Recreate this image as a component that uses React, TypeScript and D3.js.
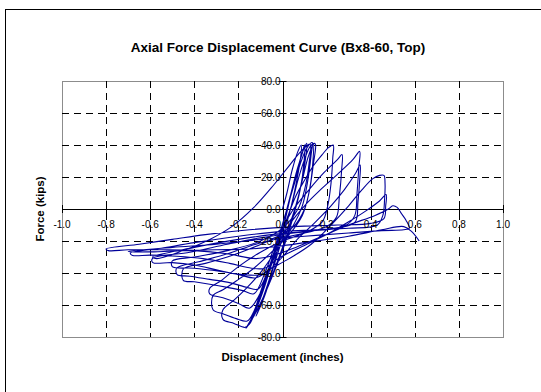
import React from "react";
import * as d3 from "d3";

// Axis tick values
const xTicks = [-1.0, -0.8, -0.6, -0.4, -0.2, 0.0, 0.2, 0.4, 0.6, 0.8, 1.0];
const yTicks = [-80, -60, -40, -20, 0, 20, 40, 60, 80];

// Recorded load history, one array per cycle: [displacement (in), force (kips)]
const cycle01: [number, number][] = [
  [0, 0], [0.02, 10], [0.045, 25], [0.07, 36], [0.085, 40], [0.082, 32], [0.065, 18], [0.04, 2],
  [0.0, -18], [-0.04, -36], [-0.08, -54], [-0.11, -64], [-0.12, -67], [-0.1, -60], [-0.06, -44],
  [-0.02, -24], [0.01, -8],
];
const cycle02: [number, number][] = [
  [0.04, 10], [0.07, 26], [0.095, 37], [0.11, 41], [0.105, 32], [0.085, 16], [0.055, -2], [0.01, -22],
  [-0.04, -40], [-0.09, -56], [-0.13, -67], [-0.165, -74.5], [-0.15, -71], [-0.12, -62], [-0.08, -46],
  [-0.04, -28], [0.0, -10],
];
const cycle03: [number, number][] = [
  [0.035, 8], [0.065, 24], [0.09, 35], [0.1, 40], [0.098, 30], [0.08, 12], [0.05, -4], [0.0, -24],
  [-0.06, -46], [-0.11, -62], [-0.15, -71], [-0.16, -73], [-0.13, -66], [-0.09, -50], [-0.05, -32],
  [-0.01, -14], [0.02, 0],
];
const cycle04: [number, number][] = [
  [0.05, 14], [0.08, 28], [0.11, 38], [0.135, 41.5], [0.13, 34], [0.115, 18], [0.09, 2],
  [0.05, -10], [-0.02, -24], [-0.09, -38], [-0.16, -49], [-0.22, -57], [-0.27, -63], [-0.27, -69],
  [-0.22, -71.5], [-0.17, -74], [-0.15, -72], [-0.12, -63], [-0.08, -48], [-0.04, -30], [0.0, -14],
  [0.04, 2],
];
const cycle05: [number, number][] = [
  [0.07, 18], [0.1, 31], [0.125, 39], [0.145, 41], [0.15, 40], [0.14, 28], [0.12, 10], [0.09, -4],
  [0.03, -16], [-0.05, -27], [-0.13, -37], [-0.21, -45], [-0.27, -50.5], [-0.315, -54], [-0.315, -63],
  [-0.27, -65.5], [-0.21, -68.5], [-0.16, -70], [-0.13, -64], [-0.1, -52], [-0.06, -36], [-0.02, -20],
  [0.02, -6], [0.06, 8],
];
const cycle06: [number, number][] = [
  [0.1, 18], [0.14, 27], [0.18, 34], [0.21, 38.5], [0.23, 40], [0.228, 32], [0.22, 16], [0.205, 2],
  [0.18, -8], [0.1, -15], [0.0, -20], [-0.1, -27], [-0.2, -36], [-0.28, -45], [-0.33, -49.5],
  [-0.33, -53], [-0.27, -55.5], [-0.2, -59], [-0.15, -62], [-0.11, -55], [-0.07, -42], [-0.03, -28],
  [0.02, -14], [0.06, 2], [0.09, 18],
];
const cycle07: [number, number][] = [
  [0.115, 32], [0.14, 40.5], [0.138, 30], [0.125, 14], [0.1, 0], [0.05, -11], [-0.05, -19],
  [-0.15, -25], [-0.25, -30], [-0.35, -34], [-0.45, -37.5], [-0.45, -44.6], [-0.4, -45.5],
  [-0.33, -47], [-0.25, -49], [-0.18, -51], [-0.13, -53], [-0.08, -40], [-0.04, -25], [0.0, -12],
  [0.05, 0], [0.12, 12], [0.19, 23], [0.25, 31],
];
const cycle08: [number, number][] = [
  [0.27, 34], [0.268, 24], [0.258, 8], [0.245, -5], [0.2, -11], [0.1, -15], [0.0, -18],
  [-0.12, -22], [-0.25, -28], [-0.38, -33], [-0.48, -37], [-0.478, -41], [-0.42, -42], [-0.33, -44],
  [-0.24, -46], [-0.16, -49], [-0.11, -50], [-0.06, -36], [-0.02, -22], [0.03, -10], [0.1, 2],
  [0.18, 13], [0.26, 23], [0.32, 31],
];
const cycle09: [number, number][] = [
  [0.35, 36], [0.346, 26], [0.338, 10], [0.328, -4], [0.29, -10], [0.18, -13],
  [0.05, -15], [-0.1, -18], [-0.25, -22], [-0.42, -27], [-0.59, -31], [-0.588, -33.5], [-0.5, -33.5],
  [-0.4, -35], [-0.3, -38], [-0.2, -41], [-0.12, -43], [-0.06, -38], [0.0, -30], [0.06, -20],
  [0.15, -8], [0.22, 2], [0.28, 12], [0.33, 22],
];
const cycle10: [number, number][] = [
  [0.352, 27.5], [0.35, 18], [0.342, 4], [0.33, -8], [0.25, -12],
  [0.1, -14], [-0.05, -16], [-0.2, -19], [-0.4, -24], [-0.59, -30], [-0.57, -31], [-0.45, -26],
  [-0.33, -19], [-0.23, -11], [-0.13, 1], [-0.04, 15], [0.03, 27], [0.09, 37], [0.125, 40.5],
  [0.12, 28], [0.1, 12], [0.07, 0],
];
const cycle11: [number, number][] = [
  [0.0, -12], [-0.1, -20], [-0.25, -26], [-0.4, -30], [-0.5, -32.5], [-0.5, -36], [-0.4, -37],
  [-0.28, -39], [-0.18, -41], [-0.1, -41], [-0.05, -37], [0.03, -31], [0.13, -22], [0.22, -10],
  [0.3, 2], [0.36, 12], [0.41, 19],
];
const cycle12: [number, number][] = [
  [0.44, 21], [0.46, 21], [0.465, 16], [0.463, 6], [0.455, -4], [0.43, -10], [0.3, -12],
  [0.15, -13], [0.0, -14], [-0.2, -17], [-0.4, -21], [-0.55, -24.5], [-0.69, -27.6], [-0.68, -29],
  [-0.6, -28.8], [-0.48, -29.5], [-0.36, -31], [-0.24, -34], [-0.14, -37], [-0.08, -37],
  [-0.02, -31], [0.08, -24], [0.2, -16], [0.3, -8], [0.38, -1], [0.44, 5],
];
const cycle13: [number, number][] = [
  [0.47, 9], [0.468, 2], [0.46, -6], [0.4, -9], [0.25, -10], [0.05, -11], [-0.15, -13],
  [-0.35, -16], [-0.5, -19], [-0.65, -22], [-0.8, -25], [-0.79, -26], [-0.7, -25.5], [-0.55, -25.5],
  [-0.4, -26], [-0.25, -28], [-0.12, -31], [-0.04, -29], [0.06, -24], [0.18, -17], [0.3, -10],
  [0.42, -4], [0.48, 0],
];
const cycle14: [number, number][] = [
  [0.5, 2], [0.52, 1], [0.54, -3], [0.56, -7], [0.575, -12], [0.55, -13], [0.45, -13.5], [0.3, -15],
  [0.1, -17], [-0.1, -19], [-0.3, -22], [-0.5, -24], [-0.7, -26.5], [-0.6, -26.8], [-0.45, -26],
  [-0.3, -25.5], [-0.15, -25], [0.0, -23], [0.15, -20], [0.3, -17], [0.45, -13], [0.55, -11],
  [0.585, -14], [0.62, -20],
];

const cycles = [
  cycle01, cycle02, cycle03, cycle04, cycle05, cycle06, cycle07,
  cycle08, cycle09, cycle10, cycle11, cycle12, cycle13, cycle14,
];

const W = 541;
const H = 392;
const plot = { left: 62, right: 503, top: 81, bottom: 337 };
const font = "'Liberation Sans', Arial, Helvetica, sans-serif";

export default function App() {
  const x = d3.scaleLinear().domain([-1, 1]).range([plot.left, plot.right]);
  const y = d3.scaleLinear().domain([-80, 80]).range([plot.bottom, plot.top]);

  const line = d3
    .line<[number, number]>()
    .x((d) => x(d[0]))
    .y((d) => y(d[1]))
    .curve(d3.curveCatmullRom.alpha(0.5));

  const pathD = line(cycles.flat()) ?? "";
  const x0 = x(0);
  const y0 = y(0);

  return (
    <svg
      width={W}
      height={H}
      style={{ position: "absolute", left: 0, top: 0, background: "#fff" }}
      fontFamily={font}
    >
      <rect x={0} y={0} width={W} height={H} fill="#fff" />
      {/* chart frame */}
      <rect x={5.5} y={9.5} width={W + 20} height={H + 20} fill="none" stroke="#000" strokeWidth={1} />

      <text x={278} y={52} textAnchor="middle" fontSize={13.5} fontWeight="bold">
        Axial Force Displacement Curve (Bx8-60, Top)
      </text>

      {/* plot area */}
      <rect
        x={plot.left + 0.5}
        y={plot.top + 0.5}
        width={plot.right - plot.left}
        height={plot.bottom - plot.top}
        fill="#fff"
        stroke="#8c8c8c"
        strokeWidth={1}
      />

      {/* dashed gridlines */}
      {xTicks
        .filter((t) => t !== 0 && Math.abs(t) !== 1)
        .map((t) => (
          <line
            key={"gx" + t}
            x1={Math.round(x(t)) + 0.5}
            x2={Math.round(x(t)) + 0.5}
            y1={plot.top}
            y2={plot.bottom}
            stroke="#000"
            strokeWidth={1}
            strokeDasharray="7,5"
          />
        ))}
      {yTicks
        .filter((t) => t !== 0 && Math.abs(t) !== 80)
        .map((t) => (
          <line
            key={"gy" + t}
            x1={plot.left}
            x2={plot.right}
            y1={Math.round(y(t)) + 0.5}
            y2={Math.round(y(t)) + 0.5}
            stroke="#000"
            strokeWidth={1}
            strokeDasharray="7,5"
          />
        ))}

      {/* axes through the origin */}
      <line x1={plot.left} x2={plot.right} y1={Math.round(y0) + 0.5} y2={Math.round(y0) + 0.5} stroke="#000" />
      <line x1={Math.round(x0) + 0.5} x2={Math.round(x0) + 0.5} y1={plot.top} y2={plot.bottom} stroke="#000" />
      {xTicks.map((t) => (
        <line
          key={"tx" + t}
          x1={Math.round(x(t)) + 0.5}
          x2={Math.round(x(t)) + 0.5}
          y1={y0 - 4}
          y2={y0 + 4}
          stroke="#000"
        />
      ))}
      {yTicks.map((t) => (
        <line
          key={"ty" + t}
          x1={x0 - 4}
          x2={x0 + 4}
          y1={Math.round(y(t)) + 0.5}
          y2={Math.round(y(t)) + 0.5}
          stroke="#000"
        />
      ))}

      {/* hysteresis trace */}
      <path d={pathD} fill="none" stroke="#000099" strokeWidth={1.1} strokeLinejoin="round" />

      {/* tick labels */}
      {xTicks.map((t) => (
        <text key={"lx" + t} x={x(t)} y={y0 + 19} textAnchor="middle" fontSize={10} fill="#000">
          {t.toFixed(1)}
        </text>
      ))}
      {yTicks.map((t) => (
        <text key={"ly" + t} x={x0 - 2} y={y(t) + 3.5} textAnchor="end" fontSize={10} fill="#000">
          {t.toFixed(1)}
        </text>
      ))}

      {/* axis titles */}
      <text x={x0} y={361} textAnchor="middle" fontSize={11.5} fontWeight="bold">
        Displacement (inches)
      </text>
      <text
        transform={`translate(44, ${y0}) rotate(-90)`}
        textAnchor="middle"
        fontSize={11.5}
        fontWeight="bold"
      >
        Force (kips)
      </text>
    </svg>
  );
}
